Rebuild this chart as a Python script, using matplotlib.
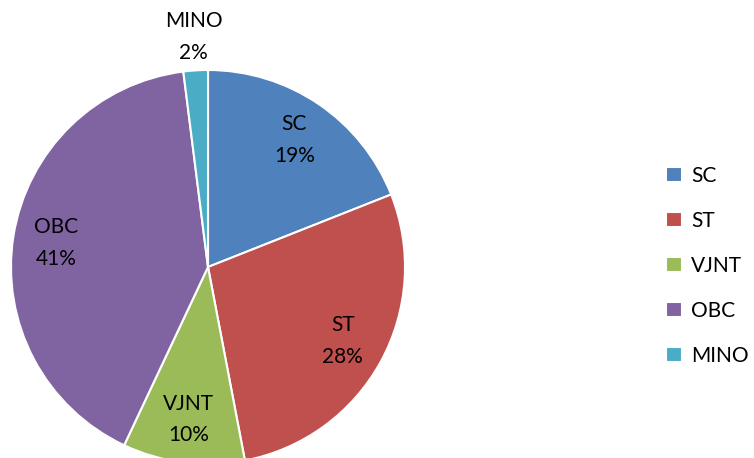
import numpy as np
import matplotlib
matplotlib.use("Agg")
import matplotlib.pyplot as plt

labels = ["SC", "ST", "VJNT", "OBC", "MINO"]
values = [19, 28, 10, 41, 2]
colors = ["#4F81BD", "#C0504D", "#9BBB59", "#8064A2", "#4BACC6"]

plt.rcParams['font.family'] = ['Lato', 'DejaVu Sans']

W, H = 754, 458
cx, cy, R = 208, 267, 197  # pie centre / radius in pixels

fig = plt.figure(figsize=(W / 100, H / 100), dpi=100)
ax = fig.add_axes([0, 0, 1, 1])

wedges, _ = ax.pie(values, colors=colors, startangle=90, counterclock=False,
                   radius=1, center=(0, 0), frame=True,
                   wedgeprops=dict(edgecolor="white", linewidth=1.5))
ax.set_xlim(-cx / R, (W - cx) / R)
ax.set_ylim((cy - H) / R, cy / R)
ax.axis("off")

total = sum(values)
for w, lab, v in zip(wedges, labels, values):
    mid = np.deg2rad((w.theta1 + w.theta2) / 2)
    r = 1.17 if v < 5 else 0.78
    ax.text(r * np.cos(mid), r * np.sin(mid), f"{lab}\n{v / total:.0%}",
            ha="center", va="center", fontsize=15, linespacing=1.7)

ax.legend(wedges, labels, loc="center left", bbox_to_anchor=(662 / W, 1 - 266 / H),
          bbox_transform=fig.transFigure, frameon=False, fontsize=15,
          handlelength=0.75, handleheight=0.75, labelspacing=1.2,
          handletextpad=0.45, borderpad=0.2, borderaxespad=0)

fig.savefig("out.png", dpi=100)
